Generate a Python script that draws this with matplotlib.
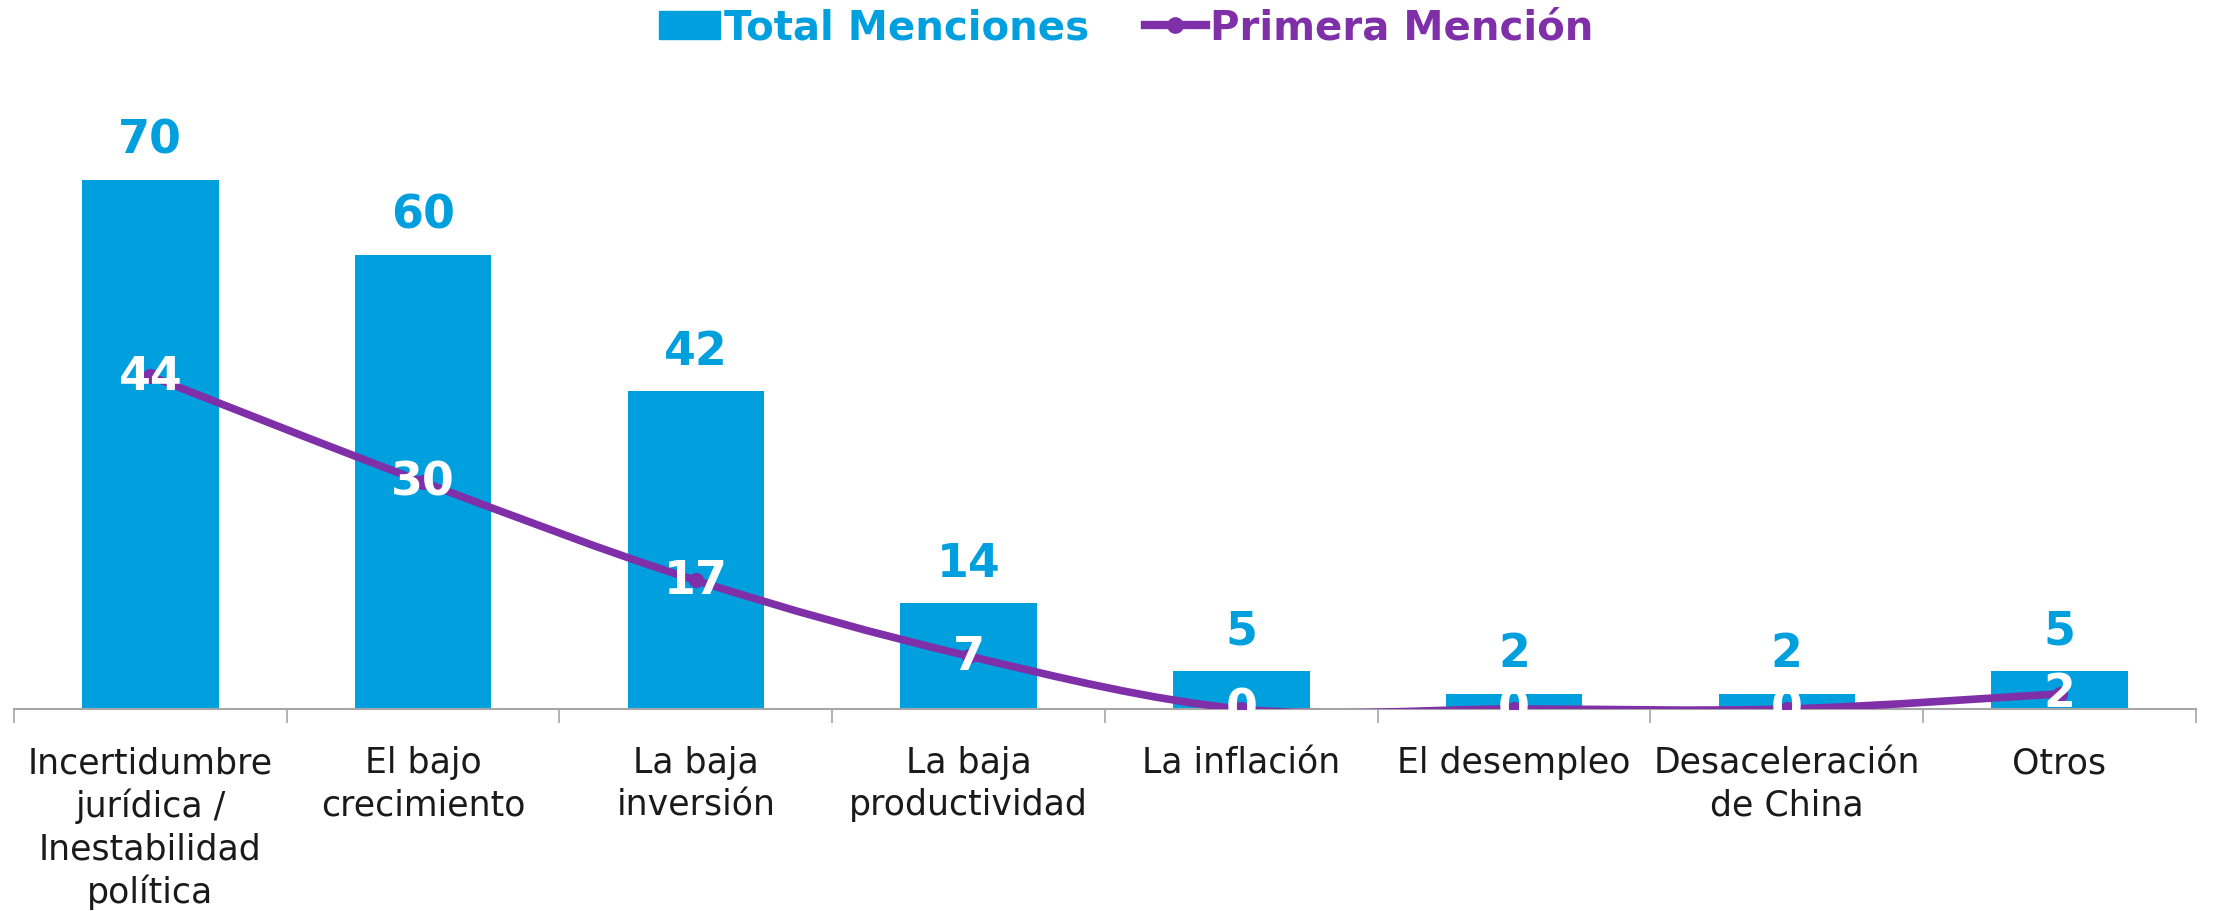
import matplotlib.pyplot as plt
from matplotlib.path import Path
from matplotlib.patches import PathPatch
from matplotlib.lines import Line2D
from matplotlib.patches import Patch

categorias = ['Incertidumbre\njurídica /\nInestabilidad\npolítica', 'El bajo\ncrecimiento',
              'La baja\ninversión', 'La baja\nproductividad', 'La inflación',
              'El desempleo', 'Desaceleración\nde China', 'Otros']
total_menciones = [70, 60, 42, 14, 5, 2, 2, 5]
primera_mencion = [44, 30, 17, 7, 0, 0, 0, 2]

azul = '#00A0DF'
morado = '#7F2FA8'
fuente = 'DejaVu Sans'

fig = plt.figure(figsize=(22.39, 9.12), dpi=100)
ax = fig.add_axes([0.00625, 0.2215, 0.9745, 0.6635])

x = list(range(len(categorias)))
ax.bar(x, total_menciones, width=0.5, color=azul, zorder=2)

# linea suavizada (tipo Excel) con curvas Bezier entre los puntos
verts = [(x[0], primera_mencion[0])]
codes = [Path.MOVETO]
n = len(x)
for i in range(n - 1):
    p0 = (x[i - 1], primera_mencion[i - 1]) if i > 0 else (x[i], primera_mencion[i])
    p1 = (x[i], primera_mencion[i])
    p2 = (x[i + 1], primera_mencion[i + 1])
    p3 = (x[i + 2], primera_mencion[i + 2]) if i + 2 < n else p2
    c1 = (p1[0] + (p2[0] - p0[0]) / 6, p1[1] + (p2[1] - p0[1]) / 6)
    c2 = (p2[0] - (p3[0] - p1[0]) / 6, p2[1] - (p3[1] - p1[1]) / 6)
    verts += [c1, c2, p2]
    codes += [Path.CURVE4] * 3
ax.add_patch(PathPatch(Path(verts, codes), facecolor='none', edgecolor=morado,
                       lw=5.5, capstyle='round', zorder=3))
ax.plot(x, primera_mencion, 'o', color=morado, ms=10, zorder=3)

for xi, v in zip(x, total_menciones):
    ax.text(xi, v + 2.3, str(v), ha='center', va='bottom', color=azul,
            fontsize=33, fontweight='bold', family=fuente)
for xi, v in zip(x, primera_mencion):
    ax.text(xi, v, str(v), ha='center', va='center', color='white',
            fontsize=33, fontweight='bold', family=fuente, zorder=4)

ax.set_xlim(-0.5, len(x) - 0.5)
ax.set_ylim(0, 80)
ax.set_yticks([])
for s in ['top', 'right', 'left']:
    ax.spines[s].set_visible(False)
ax.spines['bottom'].set_color('#A6A6A6')
ax.spines['bottom'].set_linewidth(1.5)
ax.set_xticks([i + 0.5 for i in range(-1, len(x))], minor=False)
ax.set_xticklabels([])
ax.tick_params(axis='x', length=10, color='#A6A6A6', width=1.2)
for xi, c in zip(x, categorias):
    ax.text(xi, -4.8, c, ha='center', va='top', fontsize=25, family=fuente,
            linespacing=1.3, color='#1a1a1a')

handles = [Patch(color=azul), Line2D([0], [0], color=morado, lw=6, marker='o', ms=11)]
leg = fig.legend(handles, ['Total Menciones', 'Primera Mención'], loc='upper center',
                 bbox_to_anchor=(0.503, 1.03), ncol=2, frameon=False, handlelength=1.5,
                 handleheight=0.7, handletextpad=0.1, columnspacing=1.4,
                 prop={'family': fuente, 'size': 29, 'weight': 'bold'})
for t, c in zip(leg.get_texts(), [azul, morado]):
    t.set_color(c)

fig.savefig('out.png', dpi=100)
